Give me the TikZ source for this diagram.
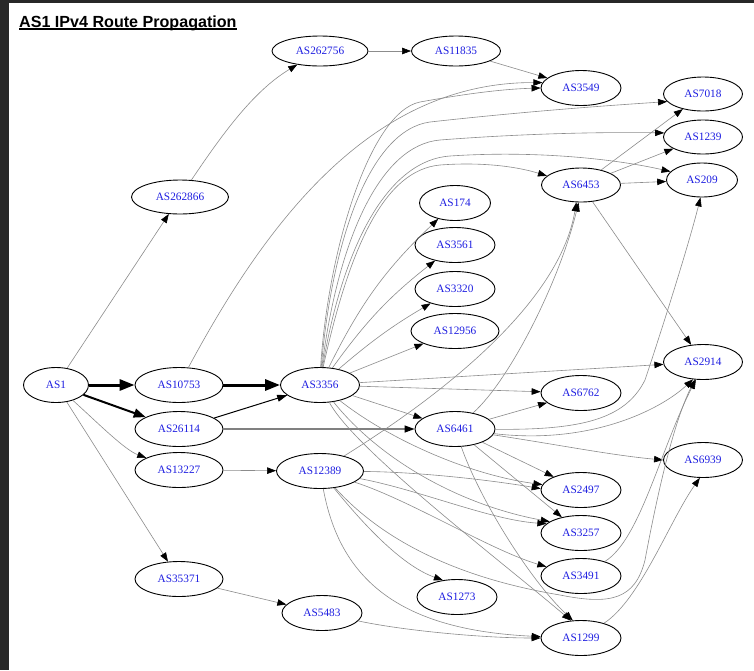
\documentclass[tikz,border=0pt]{standalone}
\usepackage{fontspec}
\setmainfont{Liberation Serif}
\newfontfamily\titlefont{Liberation Sans}
\usetikzlibrary{shapes.geometric,arrows.meta}
\definecolor{frame}{RGB}{40,40,40}
\definecolor{lbl}{RGB}{30,30,225}
\definecolor{edgec}{RGB}{140,140,140}
\begin{document}
\begin{tikzpicture}[x=1pt,y=-1pt,
  asn/.style={ellipse, draw=black, line width=0.9pt, inner sep=0pt,
    font=\fontsize{11.3}{11}\selectfont, text=lbl, minimum height=35pt},
  e/.style={draw=edgec, line width=0.6pt,
    -{Triangle[length=9pt,width=6.5pt,color=black,fill=black]}},
  ethick/.style={draw=black, line width=3pt,
    -{Triangle[length=15pt,width=11pt,color=black,fill=black]}},
  emid/.style={draw=black, line width=2pt,
    -{Triangle[length=12pt,width=9pt,color=black,fill=black]}},
  eone/.style={draw=black, line width=1pt,
    -{Triangle[length=10pt,width=7pt,color=black,fill=black]}},
  egray/.style={draw=gray, line width=1.3pt,
    -{Triangle[length=10pt,width=7pt,color=black,fill=black]}}]
\useasboundingbox (0,0) rectangle (754,670);
\fill[frame] (0,0) rectangle (754,670);
\fill[white] (9,3) rectangle (754,670);
\node[anchor=base west, inner sep=0pt, font=\titlefont\bfseries\fontsize{16.1}{17}\selectfont] (title) at (19,27) {AS1 IPv4 Route Propagation};
\draw[line width=1.3pt] ([yshift=-2pt]title.base west) -- ([yshift=-2pt]title.base east);

% nodes
\node[asn, minimum width=96pt, minimum height=30pt] (AS262756) at (320,51) {AS262756};
\node[asn, minimum width=89pt, minimum height=30pt] (AS11835) at (456,51) {AS11835};
\node[asn, minimum width=80pt] (AS3549) at (581,88) {AS3549};
\node[asn, minimum width=79pt, minimum height=34pt] (AS7018) at (703,94) {AS7018};
\node[asn, minimum width=79pt, minimum height=34pt] (AS1239) at (703,137) {AS1239};
\node[asn, minimum width=71pt, minimum height=34pt] (AS209) at (702,180) {AS209};
\node[asn, minimum width=79pt, minimum height=34pt] (AS6453) at (581,185) {AS6453};
\node[asn, minimum width=97pt, minimum height=34pt] (AS262866) at (180,197) {AS262866};
\node[asn, minimum width=71pt] (AS174) at (455,203) {AS174};
\node[asn, minimum width=80pt] (AS3561) at (455,245) {AS3561};
\node[asn, minimum width=80pt] (AS3320) at (455,289) {AS3320};
\node[asn, minimum width=88pt] (AS12956) at (455,331) {AS12956};
\node[asn, minimum width=65pt] (AS1) at (56,385) {AS1};
\node[asn, minimum width=88pt] (AS10753) at (179,385) {AS10753};
\node[asn, minimum width=79pt] (AS3356) at (320,385) {AS3356};
\node[asn, minimum width=79pt] (AS2914) at (703,362) {AS2914};
\node[asn, minimum width=80pt] (AS6762) at (581,393) {AS6762};
\node[asn, minimum width=88pt] (AS26114) at (179,429) {AS26114};
\node[asn, minimum width=80pt] (AS6461) at (455,429) {AS6461};
\node[asn, minimum width=79pt] (AS6939) at (703,460) {AS6939};
\node[asn, minimum width=88pt] (AS13227) at (179,470) {AS13227};
\node[asn, minimum width=87pt] (AS12389) at (320,471) {AS12389};
\node[asn, minimum width=80pt] (AS2497) at (581,490) {AS2497};
\node[asn, minimum width=80pt] (AS3257) at (581,533) {AS3257};
\node[asn, minimum width=80pt] (AS3491) at (581,576) {AS3491};
\node[asn, minimum width=88pt] (AS35371) at (179,579) {AS35371};
\node[asn, minimum width=80pt] (AS1273) at (457,597) {AS1273};
\node[asn, minimum width=80pt] (AS5483) at (322,613) {AS5483};
\node[asn, minimum width=80pt] (AS1299) at (581,638) {AS1299};

% edges from AS1
\draw[e] (AS1) -- (AS262866);
\draw[ethick] (AS1) -- (AS10753);
\draw[emid] (AS1) -- (AS26114);
\draw[e] (AS1) .. controls (100,425) and (125,450) .. (AS13227);
\draw[e] (AS1) -- (AS35371);

\draw[e] (AS262866) .. controls (225,130) and (255,90) .. (AS262756);
\draw[e] (AS262756) -- (AS11835);
\draw[e] (AS11835) -- (AS3549);
\draw[e] (AS10753) .. controls (265,225) and (370,82) .. (AS3549.172);
\draw[ethick] (AS10753) -- (AS3356);
\draw[eone] (AS26114) -- (AS3356);
\draw[egray] (AS26114) -- (AS6461);
\draw[e] (AS13227) -- (AS12389);
\draw[e] (AS35371) -- (AS5483);
\draw[e] (AS5483) .. controls (400,630) and (480,638) .. (AS1299.west);

% AS3356 fan
\draw[e] (AS3356.88) .. controls (328,250) and (370,112) .. (420,102) .. controls (470,93) and (505,89) .. (AS3549.west);
\draw[e] (AS3356.86) .. controls (332,240) and (370,130) .. (430,122) .. controls (520,112) and (600,106) .. (AS7018.192);
\draw[e] (AS3356.84) .. controls (338,240) and (380,145) .. (440,140) .. controls (530,133) and (610,132) .. (AS1239.174);
\draw[e] (AS3356.82) .. controls (344,240) and (390,160) .. (450,156) .. controls (540,150) and (620,160) .. (AS209.165);
\draw[e] (AS3356.80) .. controls (350,245) and (385,170) .. (440,165) .. controls (480,162) and (515,166) .. (AS6453.165);
\draw[e] (AS3356) to[bend left=10] (AS174);
\draw[e] (AS3356) to[bend left=8] (AS3561);
\draw[e] (AS3356) to[bend left=5] (AS3320);
\draw[e] (AS3356) -- (AS12956);
\draw[e] (AS3356) -- (AS2914);
\draw[e] (AS3356) -- (AS6762);
\draw[e] (AS3356) -- (AS6461);
\draw[e] (AS3356) .. controls (390,440) and (470,475) .. (AS2497.172);
\draw[e] (AS3356) .. controls (380,460) and (460,505) .. (AS3257.160);
\draw[e] (AS3356) .. controls (355,450) and (500,560) .. (AS1299.120);

% AS12389
\draw[e] (AS12389) .. controls (450,390) and (560,300) .. (AS6453.255);
\draw[e] (AS12389) .. controls (420,472) and (490,480) .. (AS2497.178);
\draw[e] (AS12389) .. controls (420,490) and (490,520) .. (AS3257.165);
\draw[e] (AS12389) .. controls (410,500) and (490,550) .. (AS3491.165);
\draw[e] (AS12389) .. controls (360,520) and (400,565) .. (AS1273.130);
\draw[e] (AS12389) .. controls (340,580) and (400,630) .. (AS1299.178);
\draw[e] (AS12389) .. controls (400,560) and (500,585) .. (560,595) .. controls (610,605) and (635,600) .. (645,560) .. controls (660,480) and (675,420) .. (AS2914.245);

% AS6461
\draw[e] (AS6461) .. controls (510,380) and (560,280) .. (AS6453.262);
\draw[e] (AS6461) -- (AS6762);
\draw[e] (AS6461) .. controls (590,445) and (660,410) .. (AS2914.240);
\draw[e] (AS6461) .. controls (580,430) and (625,420) .. (645,380) .. controls (665,320) and (690,240) .. (AS209.265);
\draw[e] (AS6461) .. controls (560,445) and (610,455) .. (AS6939.west);
\draw[e] (AS6461) -- (AS2497);
\draw[e] (AS6461) -- (AS3257);
\draw[e] (AS6461) .. controls (480,500) and (530,580) .. (AS1299.115);

% AS6453
\draw[e] (AS6453) -- (AS7018);
\draw[e] (AS6453) -- (AS1239);
\draw[e] (AS6453) -- (AS209);
\draw[e] (AS6453) -- (AS2914);

\draw[e] (AS3491) .. controls (640,540) and (660,450) .. (AS2914.248);
\draw[e] (AS1299) .. controls (640,600) and (670,520) .. (AS6939.260);
\end{tikzpicture}
\end{document}
